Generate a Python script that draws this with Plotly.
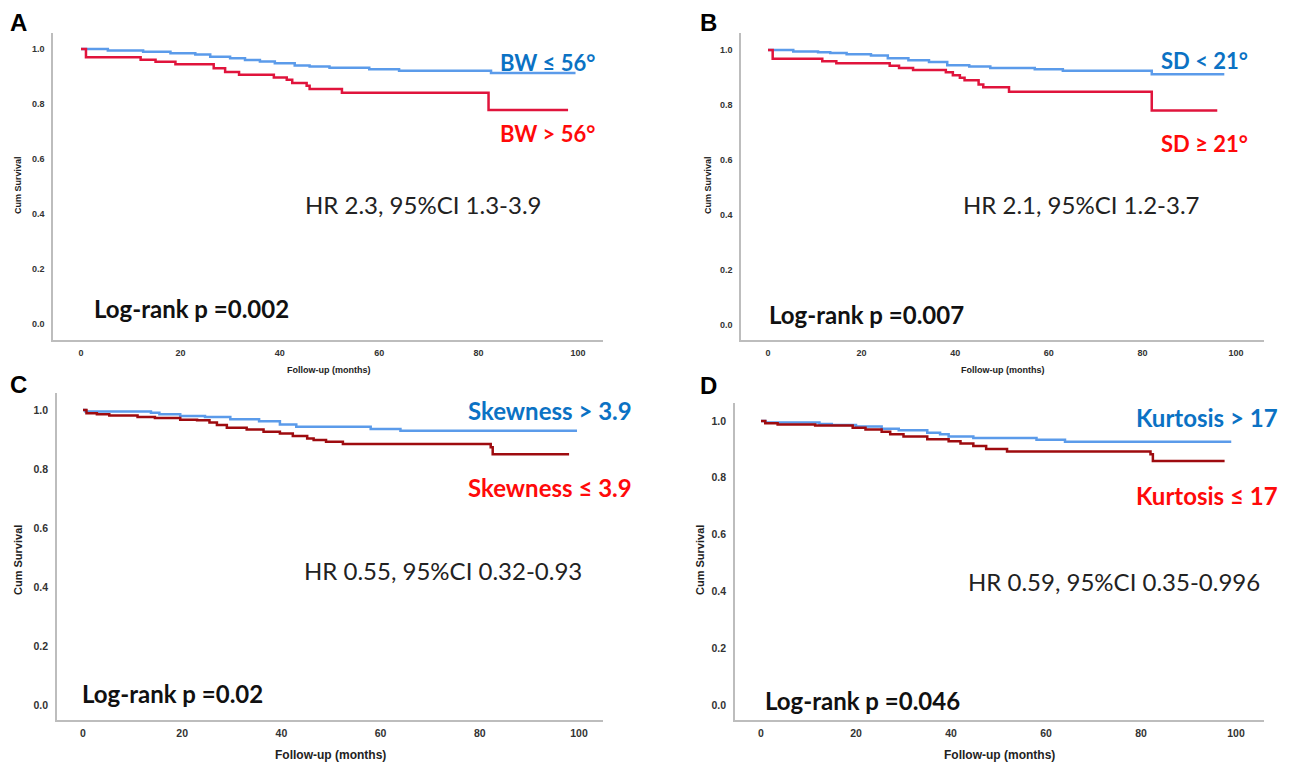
import plotly.graph_objects as go

# ---------------- data ----------------
x_ticks = [0, 20, 40, 60, 80, 100]
x_tick_labels = ["0", "20", "40", "60", "80", "100"]
y_ticks = [0.0, 0.2, 0.4, 0.6, 0.8, 1.0]
y_tick_labels = ["0.0", "0.2", "0.4", "0.6", "0.8", "1.0"]

# Panel A: BW
a_blue_t = [0, 5.4, 12.5, 18, 23, 26, 30, 33, 36, 39, 43, 46, 50, 58, 64, 82.5, 99.5]
a_blue_s = [1.0, 0.995, 0.99, 0.985, 0.98, 0.972, 0.966, 0.96, 0.955, 0.948, 0.94, 0.936, 0.932, 0.926, 0.921, 0.913, 0.913]
a_red_t = [0, 1, 12, 15, 19, 26.7, 29, 31.8, 38.8, 41.4, 42.5, 45.4, 46, 52.5, 82, 98]
a_red_s = [1.0, 0.97, 0.961, 0.954, 0.945, 0.93, 0.916, 0.906, 0.896, 0.888, 0.876, 0.866, 0.855, 0.841, 0.778, 0.778]

# Panel B: SD
b_blue_t = [0, 5.4, 10.7, 13.3, 16.8, 22, 25.6, 30, 34.4, 38.3, 43, 47.5, 57, 63, 82, 97.5]
b_blue_s = [1.0, 0.995, 0.992, 0.989, 0.985, 0.98, 0.97, 0.963, 0.956, 0.945, 0.94, 0.935, 0.93, 0.925, 0.912, 0.912]
b_red_t = [0, 1, 11.6, 14.6, 26, 28, 31, 38, 39.5, 41, 42, 45, 46, 51.5, 82, 96]
b_red_s = [1.0, 0.968, 0.959, 0.952, 0.943, 0.935, 0.927, 0.919, 0.908, 0.899, 0.89, 0.875, 0.865, 0.848, 0.78, 0.78]

# Panel C: Skewness
c_blue_t = [0, 0.5, 13.7, 15.4, 19.6, 24.6, 29.7, 35.5, 39.7, 43, 58, 64, 99.6]
c_blue_s = [1.0, 0.995, 0.991, 0.986, 0.98, 0.976, 0.969, 0.962, 0.951, 0.943, 0.936, 0.93, 0.93]
c_red_t = [0, 0.7, 2.8, 5.3, 11, 14.5, 19.6, 23, 25.5, 27, 29, 33, 36.4, 39.7, 42.3, 45.2, 46.5, 49, 52.4, 82.2, 82.6, 98]
c_red_s = [1.0, 0.989, 0.986, 0.981, 0.976, 0.973, 0.967, 0.965, 0.958, 0.949, 0.94, 0.934, 0.926, 0.92, 0.912, 0.903, 0.898, 0.892, 0.885, 0.874, 0.85, 0.85]

# Panel D: Kurtosis
d_blue_t = [0, 0.9, 12.3, 14.9, 20, 25.4, 29, 35, 37.7, 39.5, 44.7, 58, 64, 99]
d_blue_s = [1.0, 0.995, 0.989, 0.986, 0.981, 0.973, 0.967, 0.959, 0.953, 0.945, 0.94, 0.934, 0.927, 0.927]
d_red_t = [0, 0.9, 3.5, 11.4, 19.3, 22, 25.4, 27.2, 30, 35, 39.5, 42, 44.7, 47.4, 51.8, 82, 82.5, 97.6]
d_red_s = [1.0, 0.992, 0.988, 0.984, 0.976, 0.97, 0.962, 0.953, 0.945, 0.936, 0.929, 0.921, 0.912, 0.901, 0.893, 0.883, 0.859, 0.859]

panel_letters = ["A", "B", "C", "D"]
blue_labels = ["BW ≤ 56°", "SD < 21°", "Skewness > 3.9", "Kurtosis > 17"]
red_labels = ["BW > 56°", "SD ≥ 21°", "Skewness ≤ 3.9", "Kurtosis ≤ 17"]
hr_texts = ["HR 2.3, 95%CI 1.3-3.9", "HR 2.1, 95%CI 1.2-3.7",
            "HR 0.55, 95%CI 0.32-0.93", "HR 0.59, 95%CI 0.35-0.996"]
logrank_texts = ["Log-rank p =0.002", "Log-rank p =0.007",
                 "Log-rank p =0.02", "Log-rank p =0.046"]

# ---------------- layout helpers ----------------
W, H = 1291, 765
BLUE_LINE = "#5B9BEA"
RED_LINE_AB = "#E0143C"
RED_LINE_CD = "#9E0B0F"
BLUE_TXT = "#0B72C4"
RED_TXT = "#FF0A0A"
AXIS_COL = "#BDBDBD"
TXT_FONT = "Lato, Carlito, Calibri, sans-serif"
ARIAL = "Liberation Sans, Arial, sans-serif"

# per panel: pixel geometry (left, right, x0px, x100px, top, bottom, y1px, y0px)
geo = [
    (53, 603, 81, 578, 33, 340, 49, 324),
    (741, 1264, 768, 1236, 33, 340, 50, 325),
    (57, 603, 83, 579, 393, 720, 410, 705),
    (735, 1264, 761, 1236, 403, 720, 421, 705),
]

series = [
    (a_blue_t, a_blue_s, a_red_t, a_red_s, RED_LINE_AB),
    (b_blue_t, b_blue_s, b_red_t, b_red_s, RED_LINE_AB),
    (c_blue_t, c_blue_s, c_red_t, c_red_s, RED_LINE_CD),
    (d_blue_t, d_blue_s, d_red_t, d_red_s, RED_LINE_CD),
]

fig = go.Figure()
layout = {}
annotations = []

for i, (g, s) in enumerate(zip(geo, series)):
    left, right, x0p, x100p, top, bottom, y1p, y0p = g
    xppm = (x100p - x0p) / 100.0
    yppu = (y0p - y1p)
    xr = [(left - x0p) / xppm, (right - x0p) / xppm]
    yr = [-(bottom - y0p) / yppu, 1 + (y1p - top) / yppu]
    n = "" if i == 0 else str(i + 1)
    xa, ya = "x" + n, "y" + n
    big = i >= 2
    tsize = 10.5 if big else 9
    layout["xaxis" + n] = dict(
        domain=[left / W, right / W], anchor=ya, range=xr,
        showline=True, linecolor=AXIS_COL, linewidth=1.5,
        showgrid=False, zeroline=False, ticks="",
        tickvals=x_ticks, ticktext=x_tick_labels,
        tickfont=dict(family=ARIAL, size=tsize, color="#333333", weight="bold"),
        ticklabelstandoff=3,
    )
    layout["yaxis" + n] = dict(
        domain=[1 - bottom / H, 1 - top / H], anchor=xa, range=yr,
        showline=True, linecolor=AXIS_COL, linewidth=1.5,
        showgrid=False, zeroline=False, ticks="",
        tickvals=y_ticks, ticktext=y_tick_labels,
        tickfont=dict(family=ARIAL, size=tsize, color="#333333", weight="bold"),
        ticklabelstandoff=5,
    )
    bt, bs, rt, rs, rc = s
    fig.add_trace(go.Scatter(x=bt, y=bs, mode="lines", line=dict(color=BLUE_LINE, width=2.5, shape="hv"),
                             xaxis=xa, yaxis=ya, showlegend=False, hoverinfo="skip"))
    fig.add_trace(go.Scatter(x=rt, y=rs, mode="lines", line=dict(color=rc, width=2.5, shape="hv"),
                             xaxis=xa, yaxis=ya, showlegend=False, hoverinfo="skip"))

# group labels (pixel anchors: right edge x, blue y, red y)
group_label_px = [(597, 62, 133), (1250, 61, 143), (634, 410, 488), (1280, 418, 495)]
for i, (rx, by, ry) in enumerate(group_label_px):
    lsize = 24 if i >= 2 else 22
    annotations.append(dict(x=rx / W, y=1 - by / H, xref="paper", yref="paper", text=blue_labels[i],
                            showarrow=False, xanchor="right", yanchor="middle",
                            font=dict(family=TXT_FONT, size=lsize, color=BLUE_TXT, weight="bold")))
    annotations.append(dict(x=rx / W, y=1 - ry / H, xref="paper", yref="paper", text=red_labels[i],
                            showarrow=False, xanchor="right", yanchor="middle",
                            font=dict(family=TXT_FONT, size=lsize, color=RED_TXT, weight="bold")))

# HR (center px) and log-rank (left px)
hr_px = [(423, 205), (1081, 205), (443, 570), (1114, 581)]
lr_px = [(92, 308), (767, 314), (80, 693), (763, 700)]
for i in range(4):
    hx, hy = hr_px[i]
    gx, gy = lr_px[i]
    annotations.append(dict(x=hx / W, y=1 - hy / H, xref="paper", yref="paper", text=hr_texts[i],
                            showarrow=False, xanchor="center", yanchor="middle",
                            font=dict(family=TXT_FONT, size=24, color="#222222")))
    annotations.append(dict(x=gx / W, y=1 - gy / H, xref="paper", yref="paper", text=logrank_texts[i],
                            showarrow=False, xanchor="left", yanchor="middle",
                            font=dict(family=TXT_FONT, size=24, color="#111111", weight="bold")))

# panel letters
letter_px = [(18, 22), (708, 22), (18, 384), (708, 385)]
for letter, (px, py) in zip(panel_letters, letter_px):
    annotations.append(dict(x=px / W, y=1 - py / H, xref="paper", yref="paper", text=letter,
                            showarrow=False, xanchor="center", yanchor="middle",
                            font=dict(family=ARIAL, size=24, color="#000000", weight="bold")))

# axis titles
ytitle_px = [(18, 185, 9), (708, 185, 9), (18, 560, 11), (700, 560, 11)]
for px, py, fs in ytitle_px:
    annotations.append(dict(x=px / W, y=1 - py / H, xref="paper", yref="paper", text="Cum Survival",
                            showarrow=False, textangle=-90, xanchor="center", yanchor="middle",
                            font=dict(family=ARIAL, size=fs, color="#222222", weight="bold")))
xtitle_px = [(328, 370, 9), (1002, 370, 9), (330, 755, 12), (999, 755, 12)]
for px, py, fs in xtitle_px:
    annotations.append(dict(x=px / W, y=1 - py / H, xref="paper", yref="paper", text="Follow-up (months)",
                            showarrow=False, xanchor="center", yanchor="middle",
                            font=dict(family=ARIAL, size=fs, color="#222222", weight="bold")))

fig.update_layout(
    width=W, height=H,
    margin=dict(l=0, r=0, t=0, b=0),
    paper_bgcolor="white", plot_bgcolor="white",
    annotations=annotations,
    hovermode=False,
    **layout,
)

fig.write_html("out.html", config={"displayModeBar": False},
               post_script="document.body.style.margin='0px';document.body.style.overflow='hidden';")
